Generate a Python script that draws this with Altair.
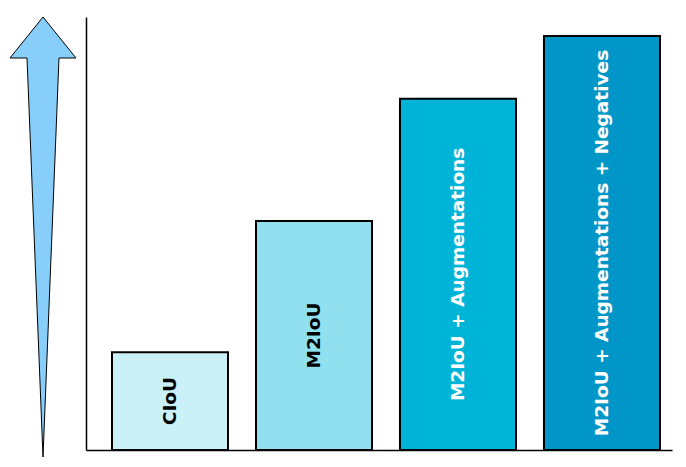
import altair as alt
import pandas as pd

methods = ["CIoU", "M2IoU", "M2IoU + Augmentations", "M2IoU + Augmentations + Negatives"]
scores = [22.6, 52.9, 81.1, 95.6]
colors = ["#CAF0F8", "#90E0EF", "#00B4D8", "#0096C7"]
text_colors = ["black", "black", "white", "white"]

df = pd.DataFrame({"method": methods, "score": scores, "color": colors, "tcolor": text_colors})
df["half"] = df["score"] / 2

W, H = 586, 433

xs = alt.X("method:N", sort=methods,
           scale=alt.Scale(paddingInner=0.1944, paddingOuter=0.132, align=0.684),
           axis=alt.Axis(title=None, labels=False, ticks=False, domain=True,
                         domainColor="black", domainWidth=1.5, grid=False))

bars = alt.Chart(df).mark_bar(stroke="black", strokeWidth=2).encode(
    x=xs,
    y=alt.Y("score:Q", scale=alt.Scale(domain=[0, 100], nice=False),
            axis=alt.Axis(title=None, labels=False, ticks=False, domain=True,
                          domainColor="black", domainWidth=1.5, grid=False)),
    color=alt.Color("color:N", scale=None),
)

labels = alt.Chart(df).mark_text(angle=270, font="DejaVu Sans", fontWeight="bold",
                                 fontSize=18.5, align="center", baseline="middle").encode(
    x=alt.X("method:N", sort=methods,
            scale=alt.Scale(paddingInner=0.1944, paddingOuter=0.132, align=0.684)),
    y=alt.Y("half:Q"),
    text="method:N",
    color=alt.Color("tcolor:N", scale=None),
)

arrow_path = ("M0,-1 L0.15,-0.8136 L0.0727,-0.8136 L0,1 "
              "L-0.0727,-0.8136 L-0.15,-0.8136 Z")
arrow = alt.Chart(pd.DataFrame({"a": [1]})).mark_point(
    shape=arrow_path, filled=True, fill="#87CEFA", stroke="black",
    strokeWidth=1, opacity=1, size=440 * 440
).encode(x=alt.value(-43), y=alt.value(220))

chart = alt.layer(bars, labels, arrow).properties(
    width=W, height=H,
    autosize=alt.AutoSizeParams(type="none"),
    padding={"left": 78, "top": 9, "right": 6, "bottom": 9},
).configure_view(stroke=None)

chart.save("out.html", embed_options={"renderer": "svg", "actions": False})
